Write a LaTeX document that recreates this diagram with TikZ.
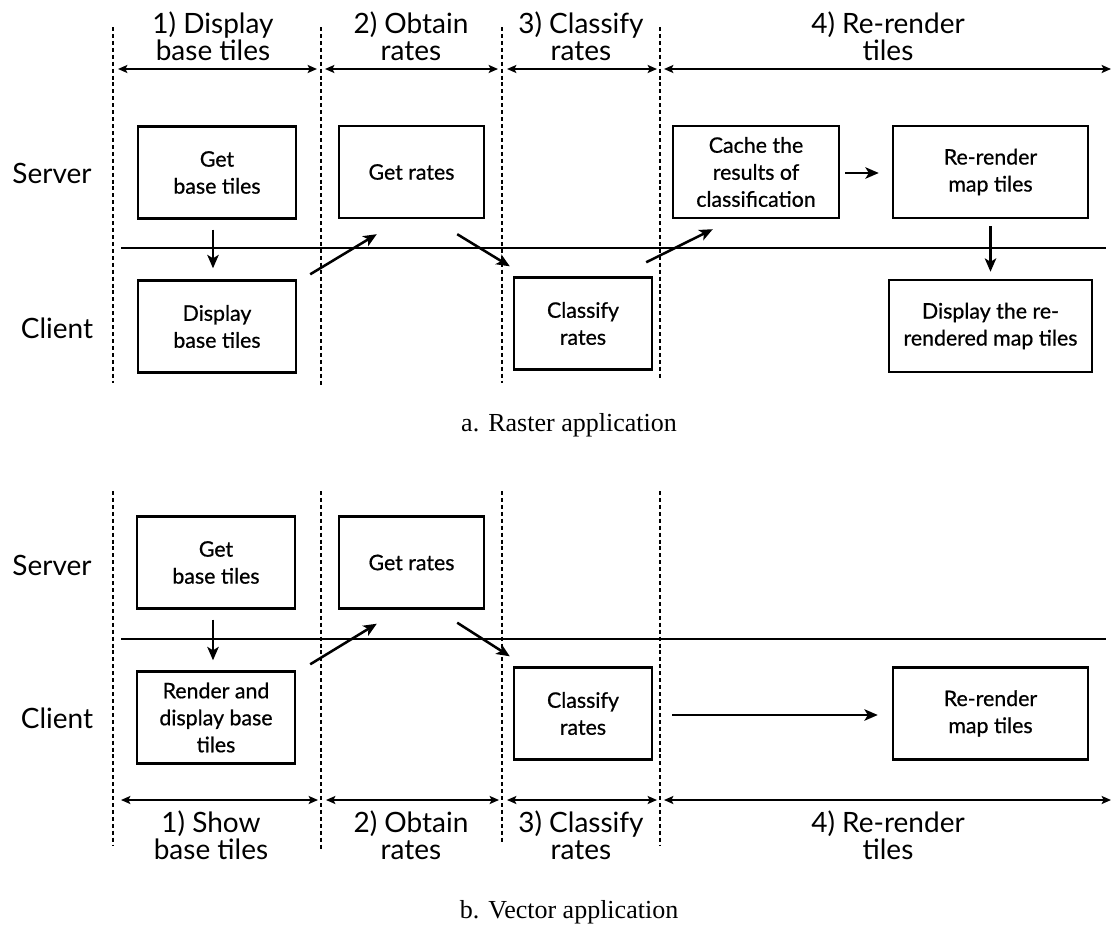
\documentclass[tikz,border=0pt]{standalone}
\usepackage{fontspec}
\setmainfont{Liberation Serif}
\newfontfamily\gillface{Lato}
\newfontfamily\gillboxface[FakeBold=0.7]{Lato}
\usetikzlibrary{arrows.meta}
\newcommand\hdfont{\gillface\fontsize{21}{20.5}\selectfont}
\newcommand\bxfont{\gillboxface\fontsize{16}{20.25}\selectfont}
\newcommand\cpfont{\rmfamily\fontsize{19.5}{22}\selectfont}
\begin{document}
\begin{tikzpicture}[x=0.75pt,y=-0.75pt,
  box/.style={draw, line width=1.8pt, minimum height=69pt, inner sep=0pt, align=center, font=\bxfont},
  lane/.style={line width=1.3pt, dash pattern=on 3pt off 2.2pt},
  sep/.style={line width=1.5pt},
  flow/.style={-{Stealth[length=10pt,width=8.5pt,inset=2.5pt]}, line width=1.9pt},
  span/.style={{Stealth[length=7pt,width=6pt,inset=1.5pt]}-{Stealth[length=7pt,width=6pt,inset=1.5pt]}, line width=1.5pt},
  phase/.style={align=center, font=\hdfont, inner sep=0pt},
  role/.style={font=\hdfont, inner sep=0pt},
  caption/.style={font=\cpfont, inner sep=0pt}]
\useasboundingbox (0,0) rectangle (1111,928);

% ---------- a. Raster application ----------
% phase separators
\foreach \x/\b in {113/383, 321/387, 502/383, 660/380}
  \draw[lane] (\x,27) -- (\x,\b);
% server / client divide
\draw[sep] (121,248) -- (1106,248);
% phase spans and titles
\draw[span] (118,69) -- (317,69);
\draw[span] (325,69) -- (498,69);
\draw[span] (507,69) -- (657,69);
\draw[span] (664,69) -- (1111,69);
\node[phase] (pa1) at (213,36) {1) Display\\base tiles};
\node[phase] (pa2) at (411,36) {2) Obtain\\rates};
\node[phase] (pa3) at (581,36) {3) Classify\\rates};
\node[phase] (pa4) at (888,36) {4) Re-render\\tiles};
% roles
\node[role] (aServer) at (52,173) {Server};
\node[role] (aClient) at (57,328) {Client};
% steps
\node[box, minimum width=118.5pt] (sBase) at (217,172.5) {Get\\base tiles};
\node[box, minimum width=108.75pt] (sRates) at (411.5,172) {Get rates};
\node[box, minimum width=124.5pt] (sCache) at (756,172) {Cache the\\results of\\classification};
\node[box, minimum width=146.25pt] (sRender) at (990.5,172) {Re-render\\map tiles};
\node[box, minimum width=118.5pt] (cBase) at (217,326.5) {Display\\base tiles};
\node[box, minimum width=103.5pt] (cClass) at (583,323.5) {Classify\\rates};
\node[box, minimum width=152.25pt] (cShow) at (990.5,326) {Display the re-\\rendered map tiles};
% flow
\draw[flow] ([shift={(-4,10)}]sBase.south) -- ([shift={(-4,-11)}]cBase.north);
\draw[flow] ([shift={(13,-5)}]cBase.north east) -- ([shift={(39,15)}]sRates.south west);
\draw[flow] ([shift={(-28,15)}]sRates.south east) -- ([shift={(-3,-10)}]cClass.north west);
\draw[flow] ([shift={(-7,-14)}]cClass.north east) -- ([shift={(41,10)}]sCache.south west);
\draw[flow] ([shift={(5,1)}]sCache.east) -- ([shift={(-13,1)}]sRender.west);
\draw[flow] ([shift={(0,7)}]sRender.south) -- ([shift={(0,-7)}]cShow.north);
\node[caption] (capA) at (569,425) {a.\hspace{0.35em}Raster application};

% ---------- b. Vector application ----------
\foreach \x/\b in {113/845, 321/849, 502/843, 660/845}
  \draw[lane] (\x,491) -- (\x,\b);
\draw[sep] (121,639) -- (1106,639);
\draw[span] (121,800) -- (318,800);
\draw[span] (326,800) -- (499,800);
\draw[span] (507,800) -- (657,800);
\draw[span] (664,800) -- (1111,800);
\node[phase] (pb1) at (211,835) {1) Show\\base tiles};
\node[phase] (pb2) at (411,835) {2) Obtain\\rates};
\node[phase] (pb3) at (581,835) {3) Classify\\rates};
\node[phase] (pb4) at (888,835) {4) Re-render\\tiles};
\node[role] (bServer) at (52,565) {Server};
\node[role] (bClient) at (57,718) {Client};
\node[box, minimum width=118.5pt] (vBase) at (216,562.5) {Get\\base tiles};
\node[box, minimum width=108.75pt] (vRates) at (411.5,562.5) {Get rates};
\node[box, minimum width=118.5pt] (vDraw) at (216,717.5) {Render and\\display base\\tiles};
\node[box, minimum width=103.5pt] (vClass) at (583,713.5) {Classify\\rates};
\node[box, minimum width=146.25pt] (vRender) at (990.5,713.5) {Re-render\\map tiles};
\draw[flow] ([shift={(-3,10)}]vBase.south) -- ([shift={(-3,-10)}]vDraw.north);
\draw[flow] ([shift={(14,-6)}]vDraw.north east) -- ([shift={(39,14)}]vRates.south west);
\draw[flow] ([shift={(-28,13)}]vRates.south east) -- ([shift={(-3,-10)}]vClass.north west);
\draw[flow] ([shift={(19,1.5)}]vClass.east) -- ([shift={(-14,1.5)}]vRender.west);
\node[caption] (capB) at (569,912) {b.\hspace{0.35em}Vector application};
\end{tikzpicture}
\end{document}
